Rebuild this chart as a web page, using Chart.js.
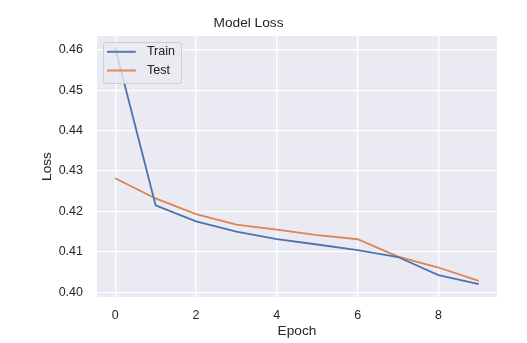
<!DOCTYPE html>
<html>
<head>
<meta charset="utf-8">
<script src="https://cdn.jsdelivr.net/npm/chart.js@4.4.0/dist/chart.umd.min.js"></script>
<style>
  html, body { margin: 0; background: #fff; }
  #wrap { width: 527px; height: 343px; }
</style>
</head>
<body>
<div id="wrap"><canvas id="lossChart"></canvas></div>
<script>
// loss per epoch
const epochs = [0, 1, 2, 3, 4, 5, 6, 7, 8, 9];
const trainLoss = [0.4605, 0.4215, 0.4175, 0.4150, 0.4131, 0.4118, 0.4104, 0.4087, 0.4042, 0.4020];
const testLoss = [0.4282, 0.4232, 0.4193, 0.4167, 0.4155, 0.4141, 0.4131, 0.4088, 0.4061, 0.4028];

const xTicks = [0, 2, 4, 6, 8];
const yTicks = [0.40, 0.41, 0.42, 0.43, 0.44, 0.45, 0.46];

const blue = '#4C72B0';
const orange = '#DD8452';
const textColor = '#262626';

const legendFontSize = 12.5;
const legendPadding = 6.2;
const sampleWidth = 34;

Chart.defaults.font.family = "'Liberation Sans', Arial, sans-serif";
Chart.defaults.color = textColor;

// short line sample for the legend, with some room before the text
function legendSample(color) {
    const c = document.createElement('canvas');
    c.width = sampleWidth;
    c.height = 4;
    const g = c.getContext('2d');
    g.strokeStyle = color;
    g.lineWidth = 1.8;
    g.beginPath();
    g.moveTo(0, 2);
    g.lineTo(29, 2);
    g.stroke();
    return c;
}

function toPoints(values) {
    return epochs.map((e, i) => ({ x: e, y: values[i] }));
}

// grey plot background
const plotBackground = {
    id: 'plotBackground',
    beforeDraw(chart) {
        const { ctx, chartArea: a } = chart;
        ctx.save();
        ctx.fillStyle = '#ffffff';
        ctx.fillRect(0, 0, chart.width, chart.height);
        ctx.fillStyle = '#EAEAF2';
        ctx.fillRect(a.left, a.top, a.right - a.left, a.bottom - a.top);
        ctx.restore();
    }
};

// legend sits inside the plot, framed, on top of the lines
const legendFrame = {
    id: 'legendFrame',
    afterLayout(chart) {
        const lg = chart.legend;
        const a = chart.chartArea;
        const dx = (a.left + 3.5) - lg.left;
        const dy = (a.top + 3.3) - lg.top;
        lg.left += dx;
        lg.right += dx;
        lg.top += dy;
        lg.bottom += dy;
    },
    afterDatasetsDraw(chart) {
        const lg = chart.legend;
        const items = lg.legendItems || [];
        if (!items.length) return;
        const ctx = chart.ctx;
        ctx.save();
        ctx.font = legendFontSize + "px 'Liberation Sans', Arial, sans-serif";
        const textW = Math.max(...items.map(it => ctx.measureText(it.text).width));
        const itemLeft = lg.left + legendPadding;
        const itemTop = lg.top + legendPadding;
        const rowStep = legendFontSize + legendPadding;
        const x = itemLeft - 3.4;
        const y = itemTop - 3.7;
        const w = sampleWidth + legendFontSize / 2 + textW + 6 + 3.4;
        const h = (items.length - 1) * rowStep + 18.3 + 3.7;
        ctx.beginPath();
        ctx.roundRect(Math.round(x) + 0.5, Math.round(y) + 0.5, Math.round(w), Math.round(h), 3);
        ctx.fillStyle = 'rgba(234, 234, 242, 0.8)';
        ctx.fill();
        ctx.strokeStyle = '#cccccc';
        ctx.lineWidth = 1;
        ctx.stroke();
        ctx.restore();
        lg.draw();
    }
};

new Chart(document.getElementById('lossChart'), {
    type: 'line',
    data: {
        datasets: [{
            label: 'Train',
            data: toPoints(trainLoss),
            borderColor: blue,
            backgroundColor: blue,
            borderWidth: 1.8,
            pointRadius: 0,
            pointStyle: legendSample(blue),
            tension: 0
        }, {
            label: 'Test',
            data: toPoints(testLoss),
            borderColor: orange,
            backgroundColor: orange,
            borderWidth: 1.8,
            pointRadius: 0,
            pointStyle: legendSample(orange),
            tension: 0
        }]
    },
    options: {
        responsive: true,
        maintainAspectRatio: false,
        animation: false,
        layout: { padding: { left: 0, right: 30, top: 0, bottom: 0 } },
        plugins: {
            title: {
                display: true,
                text: 'Model Loss',
                color: textColor,
                font: { size: 13.7, weight: 'normal' },
                padding: { top: 14.8, bottom: 4.8 }
            },
            legend: {
                display: true,
                position: 'chartArea',
                align: 'start',
                labels: {
                    usePointStyle: true,
                    pointStyleWidth: sampleWidth,
                    padding: legendPadding,
                    color: textColor,
                    font: { size: legendFontSize }
                }
            },
            tooltip: { enabled: false }
        },
        scales: {
            x: {
                type: 'linear',
                min: -0.45,
                max: 9.45,
                afterBuildTicks: s => { s.ticks = xTicks.map(v => ({ value: v })); },
                afterFit: s => { s.height = 46; },
                grid: { color: '#ffffff', lineWidth: 1.3, drawTicks: false },
                border: { display: false },
                ticks: {
                    padding: 11,
                    color: textColor,
                    font: { size: 12.5 },
                    callback: v => String(v)
                },
                title: {
                    display: true,
                    text: 'Epoch',
                    color: textColor,
                    font: { size: 13.7 },
                    padding: { top: 0, bottom: 3.2 }
                }
            },
            y: {
                type: 'linear',
                min: 0.3988,
                max: 0.4634,
                afterBuildTicks: s => { s.ticks = yTicks.map(v => ({ value: v })); },
                afterFit: s => { s.width = 97; },
                grid: { color: '#ffffff', lineWidth: 1.3, drawTicks: false },
                border: { display: false },
                ticks: {
                    padding: 14,
                    color: textColor,
                    font: { size: 12.5 },
                    callback: v => v.toFixed(2)
                },
                title: {
                    display: true,
                    text: 'Loss',
                    color: textColor,
                    font: { size: 13.7 },
                    padding: { top: 39, bottom: 0 }
                }
            }
        }
    },
    plugins: [plotBackground, legendFrame]
});
</script>
</body>
</html>
